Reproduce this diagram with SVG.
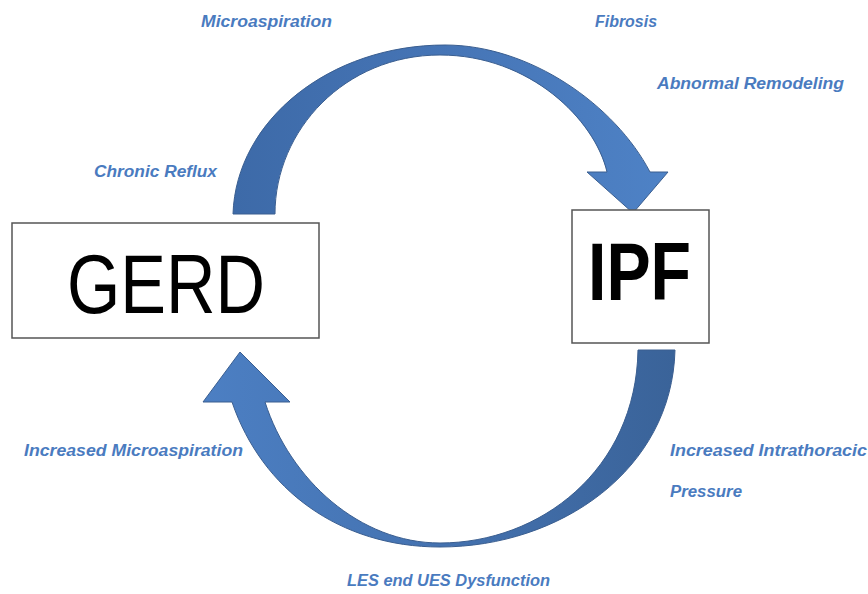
<svg xmlns="http://www.w3.org/2000/svg" width="868" height="594" viewBox="0 0 868 594">
  <defs>
    <linearGradient id="gTop" x1="0" y1="0" x2="1" y2="0">
      <stop offset="0" stop-color="#3d6aa8"/>
      <stop offset="0.5" stop-color="#4675b6"/>
      <stop offset="1" stop-color="#4e82c6"/>
    </linearGradient>
    <linearGradient id="gBot" x1="0" y1="0" x2="1" y2="0">
      <stop offset="0" stop-color="#4c7fc3"/>
      <stop offset="0.5" stop-color="#4472b0"/>
      <stop offset="1" stop-color="#3a6399"/>
    </linearGradient>
    <style>
      .box { fill: #ffffff; stroke: #555555; stroke-width: 1.5; }
      .arrow { stroke: #3a5e90; stroke-width: 1; stroke-linejoin: miter; }
      .lbl { font-family: "Liberation Sans", Arial, sans-serif; font-size: 16px; font-weight: bold; font-style: italic; fill: #4a7bbf; }
      .gerd { font-family: "Liberation Sans", Arial, sans-serif; font-size: 83px; fill: #000000; }
      .ipf { font-family: "Liberation Sans", Arial, sans-serif; font-size: 82px; font-weight: bold; fill: #000000; }
    </style>
  </defs>

  <g id="connectors">
    <path id="arrow-top" class="arrow" fill="url(#gTop)" d="M233,214 C236,120 330,45 445,45 C530,45 615,105 650,172 L668,172 L633,213 L587,172 L607,172 C595,120 530,55 440,55 C345,55 275,130 275,214 Z"/>
    <path id="arrow-bottom" class="arrow" fill="url(#gBot)" d="M675,350 C672,470 560,547 440,547 C340,547 262,490 232,402 L203,402 L240,352 L290,402 L265,402 C290,480 360,543 440,543 C540,543 636,470 638,350 Z"/>
  </g>

  <g id="node-gerd">
    <rect class="box" x="12" y="223" width="307" height="115"/>
    <text class="gerd" x="67" y="313" textLength="198" lengthAdjust="spacingAndGlyphs">GERD</text>
  </g>

  <g id="node-ipf">
    <rect class="box" x="572" y="210" width="137" height="133"/>
    <text class="ipf" x="588" y="300" textLength="103" lengthAdjust="spacingAndGlyphs">IPF</text>
  </g>

  <g id="labels">
    <text class="lbl" x="201" y="27" textLength="131" lengthAdjust="spacingAndGlyphs">Microaspiration</text>
    <text class="lbl" x="595" y="27" textLength="62" lengthAdjust="spacingAndGlyphs">Fibrosis</text>
    <text class="lbl" x="657" y="89" textLength="187" lengthAdjust="spacingAndGlyphs">Abnormal Remodeling</text>
    <text class="lbl" x="94" y="177" textLength="123" lengthAdjust="spacingAndGlyphs">Chronic Reflux</text>
    <text class="lbl" x="24" y="456" textLength="219" lengthAdjust="spacingAndGlyphs">Increased Microaspiration</text>
    <text class="lbl" x="670" y="456" textLength="197" lengthAdjust="spacingAndGlyphs">Increased Intrathoracic</text>
    <text class="lbl" x="670" y="497" textLength="72" lengthAdjust="spacingAndGlyphs">Pressure</text>
    <text class="lbl" x="347" y="586" textLength="203" lengthAdjust="spacingAndGlyphs">LES end UES Dysfunction</text>
  </g>
</svg>
